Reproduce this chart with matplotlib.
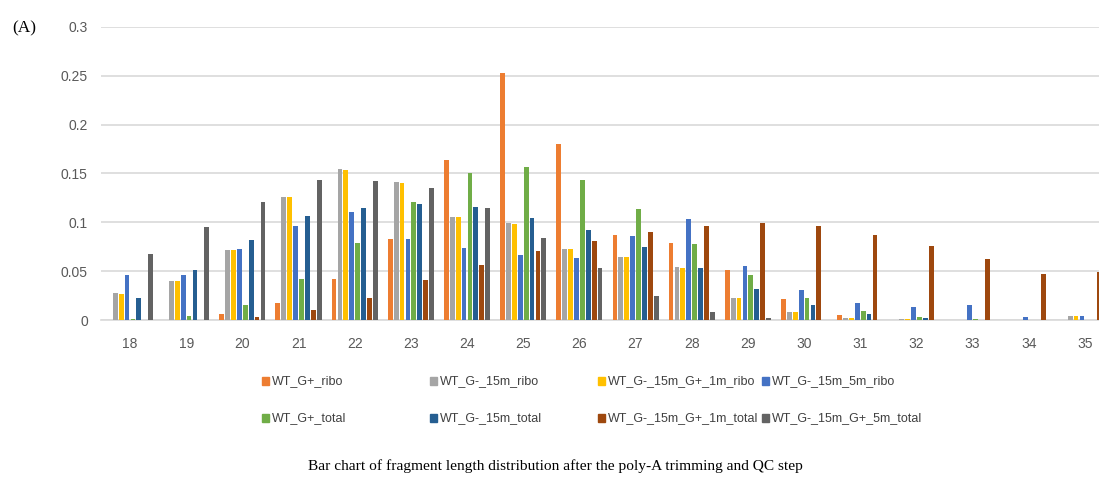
import numpy as np
import matplotlib.pyplot as plt
from matplotlib.patches import Rectangle
from matplotlib.ticker import FuncFormatter

# fragment lengths (nt)
lengths = list(range(18, 36))

# fraction of reads per fragment length, one list per library
wt_gplus_ribo = [0, 0, 0.006, 0.017, 0.0415, 0.083, 0.164, 0.253, 0.180, 0.087,
                 0.079, 0.051, 0.0215, 0.0054, 0, 0, 0, 0]
wt_gminus_15m_ribo = [0.028, 0.0395, 0.072, 0.126, 0.155, 0.1415, 0.105, 0.099, 0.0725, 0.064,
                      0.054, 0.0225, 0.0082, 0.0024, 0.001, 0, 0, 0.004]
wt_gminus_15m_gplus_1m_ribo = [0.027, 0.0395, 0.072, 0.1255, 0.154, 0.1405, 0.105, 0.098, 0.0725, 0.064,
                               0.0535, 0.0225, 0.0082, 0.0024, 0.001, 0, 0, 0.004]
wt_gminus_15m_5m_ribo = [0.0456, 0.046, 0.0725, 0.096, 0.111, 0.083, 0.0736, 0.0664, 0.0637, 0.0865,
                         0.1035, 0.0552, 0.031, 0.0174, 0.0133, 0.0157, 0.003, 0.0044]
wt_gplus_total = [0.001, 0.004, 0.0157, 0.042, 0.079, 0.121, 0.151, 0.1567, 0.143, 0.114,
                  0.078, 0.0463, 0.0228, 0.0095, 0.0034, 0.0007, 0, 0]
wt_gminus_15m_total = [0.023, 0.051, 0.082, 0.1066, 0.115, 0.1185, 0.1155, 0.1046, 0.0923, 0.0746,
                       0.0531, 0.0313, 0.0153, 0.0061, 0.002, 0, 0, 0]
wt_gminus_15m_gplus_1m_total = [0, 0, 0.003, 0.0099, 0.0228, 0.0405, 0.0565, 0.0708, 0.081, 0.0903,
                                0.096, 0.0991, 0.0967, 0.0875, 0.076, 0.062, 0.047, 0.0494]
wt_gminus_15m_gplus_5m_total = [0.068, 0.095, 0.121, 0.1437, 0.1427, 0.1349, 0.1144, 0.0841, 0.053, 0.0249,
                                0.0078, 0.0017, 0, 0, 0, 0, 0, 0]

series = [wt_gplus_ribo, wt_gminus_15m_ribo, wt_gminus_15m_gplus_1m_ribo, wt_gminus_15m_5m_ribo,
          wt_gplus_total, wt_gminus_15m_total, wt_gminus_15m_gplus_1m_total, wt_gminus_15m_gplus_5m_total]
names = ['WT_G+_ribo', 'WT_G-_15m_ribo', 'WT_G-_15m_G+_1m_ribo', 'WT_G-_15m_5m_ribo',
         'WT_G+_total', 'WT_G-_15m_total', 'WT_G-_15m_G+_1m_total', 'WT_G-_15m_G+_5m_total']
colors = ['#ED7D31', '#A5A5A5', '#FFC000', '#4472C4',
          '#70AD47', '#255E91', '#9E480E', '#636363']

sans = ['Liberation Sans', 'DejaVu Sans']
serif = ['Liberation Serif', 'DejaVu Serif']

W, H = 1099, 482
fig = plt.figure(figsize=(W / 100, H / 100), dpi=100)
ax = fig.add_axes([101 / W, 162 / H, 998 / W, 293 / H])

x = np.array(lengths, dtype=float)
step, width = 0.105, 0.085
for i, (vals, c) in enumerate(zip(series, colors)):
    ax.bar(x + (i - 3.5) * step, vals, width=width, color=c, zorder=3)

ax.set_xlim(17.484, 35.25)
ax.set_ylim(0, 0.3)
ax.set_xticks(lengths)
ax.set_yticks(np.arange(0, 0.301, 0.05))
ax.yaxis.set_major_formatter(FuncFormatter(lambda v, p: '%g' % round(v, 2)))
ax.yaxis.grid(True, color='#d9d9d9', lw=1.2, zorder=0)
for s in ['top', 'right', 'left']:
    ax.spines[s].set_visible(False)
ax.spines['bottom'].set_color('#d9d9d9')
ax.spines['bottom'].set_linewidth(1.2)
ax.tick_params(axis='both', length=0, colors='#595959', labelsize=10)
ax.tick_params(axis='x', pad=12)
ax.tick_params(axis='y', pad=9.5)
for lab in ax.get_xticklabels() + ax.get_yticklabels():
    lab.set_family(sans)

# legend laid out as 2 rows x 4 columns
col_x = [262, 430, 598, 762]
row_y = [381, 418]
for k, (name, c) in enumerate(zip(names, colors)):
    px, py = col_x[k % 4], row_y[k // 4]
    fig.patches.append(Rectangle((px / W, 1 - (py + 4) / H), 7 / W, 8 / H,
                                 transform=fig.transFigure, color=c))
    fig.text((px + 10) / W, 1 - py / H, name, family=sans, size=9.0,
             color='#404040', ha='left', va='center')

fig.text(12 / W, 1 - 28 / H, '(A)', family=serif, size=12.5, va='center')
fig.text(555 / W, 1 - 466 / H,
         'Bar chart of fragment length distribution after the poly-A trimming and QC step',
         family=serif, size=11.1, ha='center', va='center')

fig.savefig('out.png', dpi=100)
